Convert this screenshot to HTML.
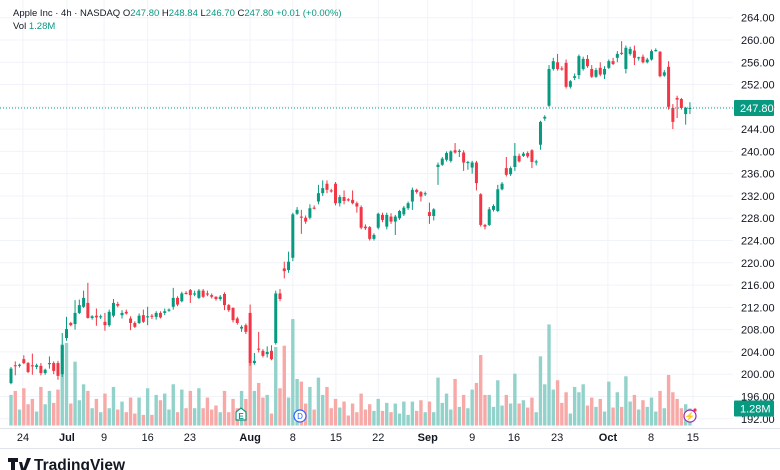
<!DOCTYPE html>
<html><head><meta charset="utf-8"><style>
html,body{margin:0;padding:0;background:#fff;width:780px;height:470px;overflow:hidden}
svg{display:block;font-family:"Liberation Sans",sans-serif}
</style></head><body>
<svg id="chart" width="780" height="470" viewBox="0 0 780 470" xmlns="http://www.w3.org/2000/svg">
<g id="grid"></g>
<g id="vols"></g>
<g id="candles"></g>
<g id="yaxis"></g>
<g id="xaxis"></g>
<text x="13" y="16" font-size="9.5" fill="#131722">Apple Inc · 4h · NASDAQ  <tspan fill="#131722">O</tspan><tspan fill="#089981">247.80</tspan>  <tspan fill="#131722">H</tspan><tspan fill="#089981">248.84</tspan>  <tspan fill="#131722">L</tspan><tspan fill="#089981">246.70</tspan>  <tspan fill="#131722">C</tspan><tspan fill="#089981">247.80  +0.01 (+0.00%)</tspan></text>
<text x="13" y="29" font-size="9.5" fill="#131722">Vol  <tspan fill="#089981">1.28M</tspan></text>
<g><path d="M236,412 l5,-4 l5,4 v8 h-10z" fill="#fff" stroke="#089981" stroke-width="1.2"/><text x="241" y="419" font-size="8" text-anchor="middle" fill="#089981" font-weight="bold">E</text></g>
<g><circle cx="300" cy="416" r="6" fill="#fff" stroke="#2962ff" stroke-width="1.2"/><text x="300" y="419" font-size="8" text-anchor="middle" fill="#2962ff">D</text></g>
<g><circle cx="690" cy="416" r="6" fill="#fff" stroke="#9c27b0" stroke-width="1.2"/><text x="690" y="419.5" font-size="9" text-anchor="middle" fill="#9c27b0">⚡</text><circle cx="695" cy="410" r="1.6" fill="#f23645"/></g>
<g><path d="M8,458 h10 v4 h-3 v8 h-4 v-8 h-3z M19,462 h3 l2,8 h-3z M23,470 l4,-12 h4 l-5,12z" fill="#131722"/><text x="34" y="470" font-size="15.5" font-weight="bold" fill="#131722">TradingView</text></g>
</svg>
<script>
const opens=[198.4,201.6,201.5,202.7,202.0,201.6,201.3,201.5,200.2,201.8,202.0,202.0,200.0,206.5,209.2,209.0,211.0,212.1,212.8,210.1,210.5,210.2,209.4,208.8,210.5,212.6,210.6,211.2,210.0,209.2,209.2,210.6,210.2,210.5,210.3,211.0,211.0,211.4,212.1,213.7,213.1,214.6,215.1,214.3,213.7,215.0,214.5,214.2,213.9,213.5,214.4,212.4,211.9,210.0,208.2,208.8,211.0,202.0,204.6,204.2,203.6,204.2,205.6,214.5,219.0,218.7,220.9,228.8,228.3,228.1,228.1,229.9,231.0,232.5,234.2,233.0,234.2,230.7,231.8,231.4,231.3,230.7,230.0,226.5,226.4,224.3,226.3,228.6,226.5,228.3,227.4,228.0,228.7,229.8,231.0,233.1,232.7,232.3,229.1,228.4,237.2,237.6,238.5,238.3,240.2,239.9,239.8,237.9,237.1,238.0,232.3,226.8,226.8,229.5,229.3,233.2,237.0,235.9,237.2,239.2,239.2,239.7,240.2,238.0,241.2,245.9,248.2,254.8,256.0,254.9,255.9,251.6,253.2,253.7,254.8,256.6,254.8,253.4,255.0,253.8,255.0,256.2,256.8,257.7,254.8,257.5,258.1,256.7,257.0,256.0,256.5,258.0,257.9,253.6,255.2,247.8,249.6,249.4,246.7,247.8];
const highs=[201.3,202.3,201.9,203.4,202.2,203.7,201.9,202.0,201.0,203.2,202.3,202.4,207.4,210.3,209.4,213.3,213.4,215.0,216.4,210.6,211.8,210.7,211.0,211.6,213.5,213.0,211.5,211.6,210.4,209.5,210.9,211.6,212.1,210.8,211.3,211.3,211.8,211.8,215.5,214.0,214.8,214.9,215.3,215.0,215.3,215.3,215.0,214.5,214.0,214.2,214.7,212.6,212.0,210.3,208.8,209.1,212.5,203.8,207.6,204.5,205.0,205.2,215.0,215.3,220.2,222.0,229.0,230.0,229.5,228.5,230.5,230.3,234.0,234.8,234.8,233.3,234.5,232.2,233.0,231.6,233.0,231.0,230.3,226.9,226.6,225.3,229.0,229.0,229.0,228.9,228.6,229.5,230.2,231.0,233.5,233.3,232.9,232.8,230.8,229.8,238.0,239.0,240.0,240.2,241.5,240.4,240.2,238.3,238.3,238.3,232.5,227.0,230.0,230.5,234.0,234.5,239.0,237.3,241.5,239.6,239.9,240.0,240.4,238.5,245.5,246.5,255.5,256.8,257.5,255.3,256.5,252.8,254.0,257.4,257.0,257.3,255.5,255.0,256.0,255.3,256.5,256.8,258.0,259.8,259.0,258.8,259.0,257.0,257.4,256.8,258.3,258.5,258.0,254.6,256.2,248.5,250.0,249.6,248.0,248.84];
const lows=[198.2,199.8,201.2,201.8,200.2,199.9,200.9,199.8,199.9,201.0,200.0,199.0,199.5,206.0,208.6,208.0,210.8,211.9,210.0,209.8,208.7,209.9,207.8,208.5,210.2,212.0,210.0,210.7,207.9,208.3,209.0,209.2,208.8,209.9,209.8,210.0,210.6,211.2,211.6,212.2,212.9,214.3,212.8,214.0,213.5,213.7,214.0,213.6,213.2,213.2,211.5,211.2,209.3,208.9,207.6,207.2,201.5,201.7,203.9,203.0,203.0,202.5,205.3,213.1,217.2,218.2,220.3,228.6,225.2,227.0,227.8,229.6,230.5,232.0,232.5,232.6,230.3,230.1,230.5,231.0,230.5,229.0,226.0,225.9,224.0,224.0,226.0,227.3,226.0,227.0,225.0,227.7,228.4,229.5,229.5,232.4,231.0,232.0,227.0,227.6,234.0,237.4,238.2,238.0,239.6,239.0,236.5,236.7,236.0,233.0,226.5,226.0,226.6,229.2,229.1,233.0,235.5,235.6,236.5,238.0,239.0,238.8,237.0,237.5,240.3,245.5,248.0,254.5,254.5,254.5,251.3,251.3,252.8,253.0,254.5,255.0,253.2,253.2,253.5,253.0,254.8,255.5,256.0,257.3,254.0,257.2,255.5,256.3,255.8,255.8,256.3,257.9,253.3,253.4,247.5,244.0,246.0,247.5,244.8,246.70];
const closes=[201.0,201.5,201.7,202.0,200.4,201.4,201.6,200.2,200.8,202.0,200.6,199.7,205.2,208.1,208.8,211.0,212.4,213.7,210.1,210.4,210.2,210.4,208.8,211.2,212.8,212.3,211.0,210.9,209.2,208.5,210.5,209.4,210.4,210.3,211.0,210.2,211.3,211.6,213.7,212.5,214.5,214.4,214.2,214.5,215.0,213.9,214.3,213.9,213.5,213.9,212.4,211.5,209.7,209.2,208.5,207.6,202.0,202.4,204.4,203.3,204.0,202.7,214.5,213.5,218.5,220.2,228.7,229.5,228.1,227.4,229.8,229.7,232.5,233.4,233.1,232.8,230.7,231.8,231.1,231.2,230.7,230.1,226.3,226.2,224.3,225.0,228.8,227.7,228.6,227.4,228.3,229.3,229.9,230.7,233.1,232.7,231.9,232.5,228.4,229.6,237.6,238.7,239.7,240.0,239.8,240.1,238.0,238.1,238.0,234.3,226.8,226.5,229.6,230.2,233.2,234.2,235.8,237.0,239.2,238.2,239.6,239.1,238.1,238.2,245.3,246.2,254.8,256.2,254.8,254.7,251.6,252.6,253.5,257.1,256.6,255.3,253.4,254.6,253.8,254.8,256.2,255.7,257.5,257.5,258.6,258.4,256.8,256.9,256.0,256.5,258.0,258.2,253.5,254.2,248.0,245.3,249.3,247.8,247.8,247.80];
const volumes=[2.3,2.6,1.2,2.8,1.6,2.0,1.05,2.9,1.6,2.6,1.7,2.7,6.1,6.2,1.65,4.8,1.9,3.1,2.6,1.3,2.0,1.0,2.4,1.3,2.9,1.2,1.8,1.0,2.1,0.9,2.1,0.8,2.8,0.8,2.3,1.9,2.4,1.2,3.1,1.0,2.7,1.3,2.6,1.3,2.8,1.3,2.1,1.2,1.5,1.0,2.6,1.0,2.0,1.3,2.6,2.0,4.7,2.6,3.2,2.1,2.3,0.9,5.9,2.8,6.0,2.1,8.0,3.5,3.3,1.65,2.9,1.2,3.6,2.3,2.9,1.3,2.0,1.35,1.8,0.75,1.65,1.0,2.4,1.2,1.6,1.1,2.0,1.1,1.7,1.0,1.65,0.9,1.8,0.8,1.8,1.1,1.9,1.0,1.8,1.0,3.6,1.7,2.4,1.2,3.5,1.4,2.3,1.3,2.7,3.2,5.3,2.3,2.3,1.4,3.4,1.5,2.3,1.65,3.9,1.65,1.9,1.35,2.1,1.0,5.2,3.1,7.6,2.7,3.4,1.7,2.5,0.9,2.9,2.5,3.1,1.5,2.1,1.4,2.0,1.05,3.3,1.35,2.5,1.4,3.7,1.8,2.3,1.2,1.9,1.4,2.1,1.05,2.6,1.3,3.8,2.5,2.0,1.3,1.6,1.28];
const priceTicks=[264,260,256,252,248,244,240,236,232,228,224,220,216,212,208,204,200,196,192];
const dateLabels=["24","Jul","9","16","23","Aug","8","15","22","Sep","9","16","23","Oct","8","15"];
const dateIndex=[2.8,13.1,21.8,32,41.9,56,66,76.1,86,97.6,108,117.8,127.9,139.8,149.9,159.7];
const boldLabels=["Jul","Aug","Sep","Oct"];
const lastPrice=247.80, lastVolLabel="1.28M";

const NS="http://www.w3.org/2000/svg";
const xOf=i=>11+i*4.27;
const yOf=p=>40+(260-p)*5.57;
const vY=v=>425.5-v*13.3;
function mk(tag,attrs,parent){const e=document.createElementNS(NS,tag);for(const k in attrs)e.setAttribute(k,attrs[k]);parent.appendChild(e);return e;}
const grid=document.getElementById('grid'),cg=document.getElementById('candles'),vg=document.getElementById('vols'),ya=document.getElementById('yaxis'),xa=document.getElementById('xaxis');

priceTicks.forEach(p=>{
  const y=yOf(p);
  const l=mk('line',{x1:0,x2:733,y1:y,y2:y,stroke:'#f0f3fa','stroke-width':1},grid);
  
  
  const t=mk('text',{x:741,y:y+4,'font-size':11,fill:'#131722'},ya);
  t.textContent=p.toFixed(2);
  
  
});
dateLabels.forEach((d,k)=>{
  const x=xOf(dateIndex[k]);
  const l=mk('line',{x1:x,x2:x,y1:0,y2:428,stroke:'#f0f3fa','stroke-width':1},grid);
  
  
  const t=mk('text',{x:x,y:441,'font-size':11,'text-anchor':'middle',fill:'#131722','font-weight':boldLabels.includes(d)?'bold':'normal'},xa);
  t.textContent=d;
  
  
});
const sep=mk('line',{x1:0,x2:780,y1:428.5,y2:428.5,stroke:'#e0e3eb','stroke-width':1},xa);


const sep2=mk('line',{x1:0,x2:780,y1:448.5,y2:448.5,stroke:'#e0e3eb','stroke-width':1},xa);



closes.forEach((c,i)=>{
  const o=opens[i],up=c>=o,x=xOf(i);
  const vc=up?'#93d2cb':'#f7a9a7';
  const vb=mk('rect',{x:x-1.7,y:vY(volumes[i]),width:3.4,height:425.5-vY(volumes[i]),fill:vc},vg);
  
  
  const col=up?'#089981':'#f23645';
  const w=mk('line',{x1:x,x2:x,y1:yOf(highs[i]),y2:yOf(lows[i]),stroke:col,'stroke-width':1},cg);
  
  
  const top=yOf(Math.max(o,c)),bot=yOf(Math.min(o,c));
  const b=mk('rect',{x:x-1.5,y:top,width:3,height:Math.max(1,bot-top),fill:col},cg);
  
  
});

const ly=yOf(lastPrice);
const pl=mk('line',{x1:0,x2:733,y1:ly,y2:ly,stroke:'#089981','stroke-width':1,'stroke-dasharray':'1,2'},ya);


const pb=mk('rect',{x:734,y:ly-8,width:40,height:16,fill:'#089981',rx:1},ya);


const pt=mk('text',{x:740,y:ly+4,'font-size':11,fill:'#fff'},ya);
pt.textContent=lastPrice.toFixed(2);


const vby=vY(volumes[volumes.length-1]);
const vbb=mk('rect',{x:734,y:vby-8,width:40,height:16,fill:'#089981',rx:1},ya);


const vbt=mk('text',{x:740,y:vby+4,'font-size':11,fill:'#fff'},ya);
vbt.textContent=lastVolLabel;


</script>
</body></html>
